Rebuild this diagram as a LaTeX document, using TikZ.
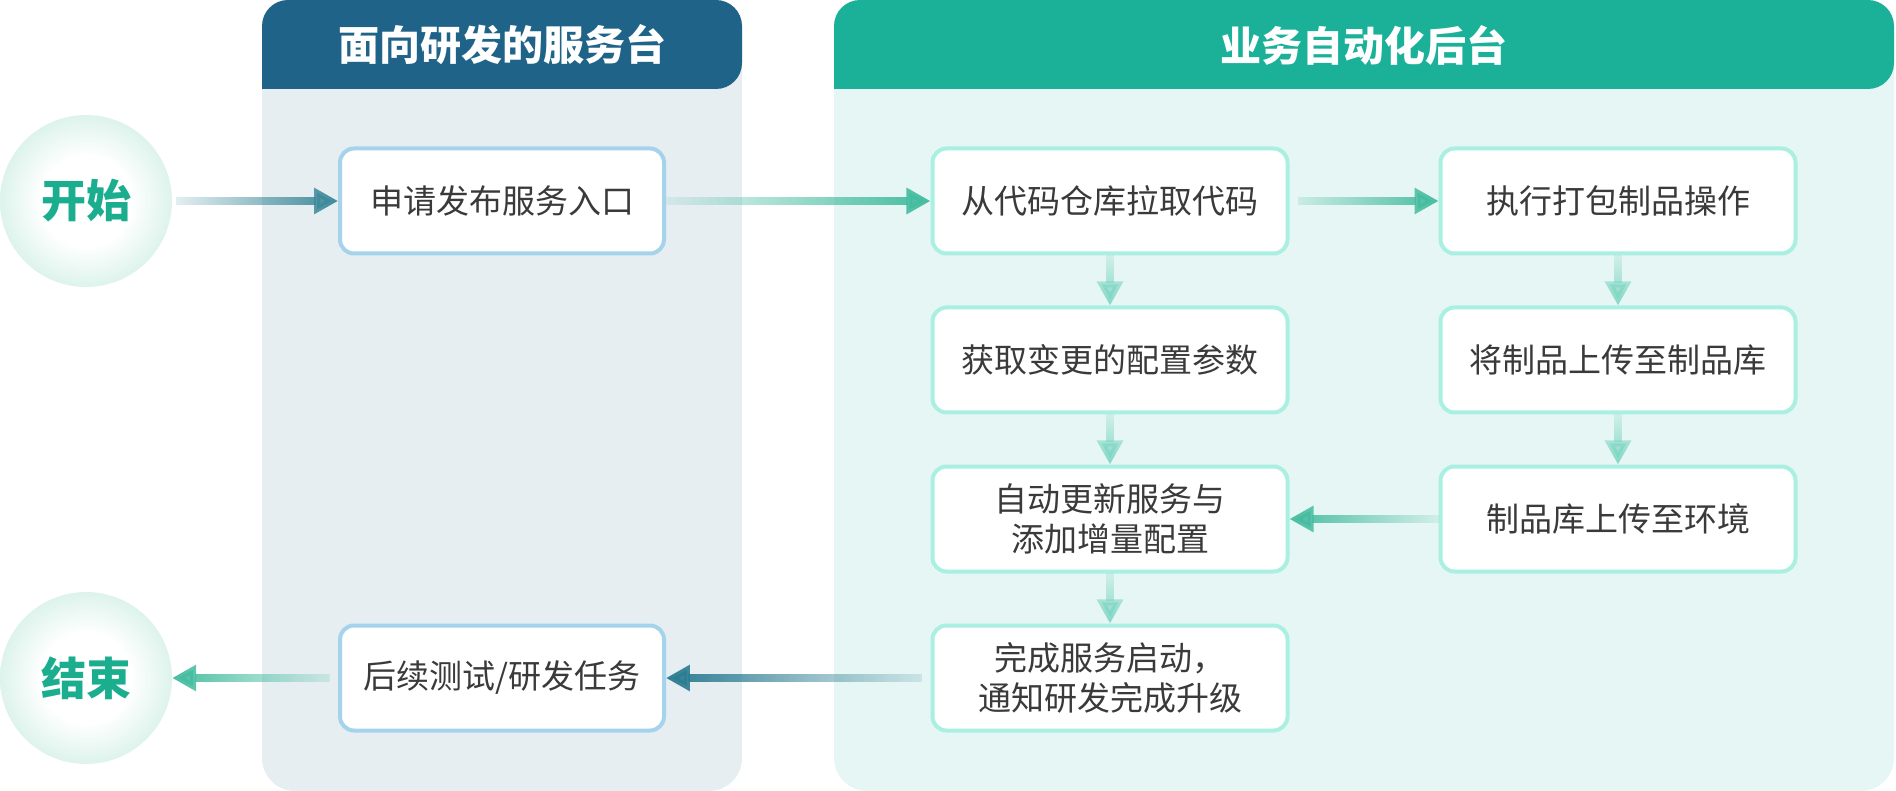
\documentclass[tikz,border=0pt]{standalone}
\usepackage{fontspec}
\setmainfont{Noto Sans CJK SC}
\usetikzlibrary{positioning, arrows.meta, fadings}

\definecolor{devhead}{HTML}{1F6488}
\definecolor{devbody}{HTML}{E6EEF2}
\definecolor{devedge}{HTML}{A6D3EC}
\definecolor{autohead}{HTML}{1BB199}
\definecolor{autobody}{HTML}{E6F6F4}
\definecolor{autoedge}{HTML}{A9F0E2}
\definecolor{glowmint}{HTML}{DDF3EC}
\definecolor{endgreen}{HTML}{1AAE8F}
\definecolor{boxtext}{HTML}{3A3A3A}
\definecolor{arrowsteel}{HTML}{3E8A9B}
\definecolor{arrowteal}{HTML}{45BCA0}
\definecolor{arrowmint}{HTML}{7DD6C3}
\definecolor{arrowdark}{HTML}{2D7D92}

\tikzfading[name=fadeinright, left color=transparent!90, right color=transparent!0]
\tikzfading[name=fadeinleft, left color=transparent!0, right color=transparent!90]
\tikzfading[name=fadeindown, top color=transparent!85, bottom color=transparent!0]
\pgfdeclareradialshading{glow}{\pgfpoint{0bp}{0bp}}{color(0bp)=(white); color(13bp)=(white); color(25bp)=(glowmint); color(50bp)=(glowmint)}

\tikzset{
  devbox/.style={draw=devedge, line width=4pt, fill=white, rounded corners=14pt,
    minimum width=324pt, minimum height=105pt, text=boxtext, align=center,
    font=\fontsize{33pt}{40pt}\selectfont},
  autobox/.style={devbox, draw=autoedge, minimum width=355pt},
  terminal/.style={circle, minimum size=172pt, shading=glow, text=endgreen,
    font=\fontsize{45pt}{54pt}\selectfont\bfseries},
  headtext/.style={text=white, font=\fontsize{41pt}{48pt}\selectfont\bfseries},
  steelflow/.style={arrowsteel, path fading=fadeinright, fading transform={yscale=4}},
  tealflow/.style={arrowteal, path fading=fadeinright, fading transform={yscale=4}},
  mintflow/.style={arrowmint, path fading=fadeindown, fading transform={xscale=4}},
  backflow/.style={arrowteal, path fading=fadeinleft, fading transform={yscale=4}},
  darkflow/.style={arrowdark, path fading=fadeinleft, fading transform={yscale=4}}
}

\begin{document}
\begin{tikzpicture}[x=1pt, y=-1pt, node distance=159pt, on grid, >={Triangle[length=24pt,width=25pt]}]
    \useasboundingbox (0,0) rectangle (1896,791);

    % Lanes
    \fill[devbody, rounded corners=33pt] (262,0) rectangle (742,791);
    \fill[autobody, rounded corners=33pt] (834,0) rectangle (1894,791);
    \fill[devhead] (262,89) [rounded corners=26pt] |- (502,0) -| (742,89) [sharp corners] -- cycle;
    \fill[autohead] (834,89) [rounded corners=26pt] |- (1364,0) -| (1894,89) [sharp corners] -- cycle;
    \node[headtext] (devtitle) at (502,45) {面向研发的服务台};
    \node[headtext] (autotitle) at (1364,45) {业务自动化后台};

    % Nodes
    \node[terminal] (start) at (86,201) {开始};
    \node[devbox] (apply) [right=416pt of start] {申请发布服务入口};
    \node[autobox] (pull) [right=608pt of apply] {从代码仓库拉取代码};
    \node[autobox] (pack) [right=508pt of pull] {执行打包制品操作};
    \node[autobox] (fetch) [below=of pull] {获取变更的配置参数};
    \node[autobox] (upload) [below=of pack] {将制品上传至制品库};
    \node[autobox] (update) [below=of fetch] {自动更新服务与\\添加增量配置};
    \node[autobox] (deploy) [below=of upload] {制品库上传至环境};
    \node[autobox] (finish) [below=of update] {完成服务启动，\\通知研发完成升级};
    \node[devbox] (follow) [left=608pt of finish] {后续测试/研发任务};
    \node[terminal] (stop) [left=416pt of follow] {结束};

    % Transitions
    \path[line width=8pt, ->]
        (start)  edge [steelflow, shorten <=4pt] (apply)
        (apply)  edge [tealflow] (pull)
        (pull)   edge [tealflow, shorten <=8pt] (pack)
                 edge [mintflow] (fetch)
        (pack)   edge [mintflow] (upload)
        (fetch)  edge [mintflow] (update)
        (upload) edge [mintflow] (deploy)
        (update) edge [mintflow] (finish)
        (deploy) edge [backflow] (update)
        (finish) edge [darkflow, shorten <=8pt] (follow)
        (follow) edge [backflow, shorten <=8pt] (stop);
\end{tikzpicture}
\end{document}
